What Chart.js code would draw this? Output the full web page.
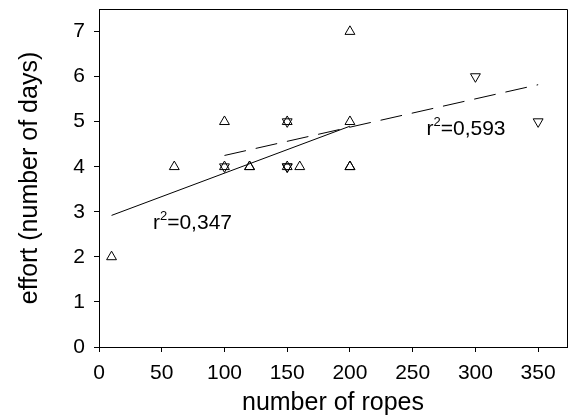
<!DOCTYPE html>
<html>
<head>
<meta charset="utf-8">
<script src="https://cdn.jsdelivr.net/npm/chart.js@4/dist/chart.umd.min.js"></script>
<style>
  html, body { margin: 0; padding: 0; background: #fff; }
  #wrap { width: 577px; height: 418px; }
</style>
</head>
<body>
<div id="wrap"><canvas id="ropesChart"></canvas></div>
<script>
// points of the first group (up triangles), duplicates drawn twice
const upX = [10, 60, 100, 100, 120, 120, 150, 150, 160, 200, 200, 200, 200];
const upY = [2, 4, 5, 4, 4, 4, 5, 4, 4, 7, 5, 4, 4];

// points of the second group (down triangles)
const downX = [100, 150, 150, 150, 300, 350];
const downY = [4, 5, 4, 4, 6, 5];

// fitted lines, end points
const solidFitX = [10, 200];
const solidFitY = [2.92, 4.9];
const dashFitX = [100, 350];
const dashFitY = [4.25, 5.82];

// r² labels and where they sit (data units)
const fitLabels = ['0,347', '0,593'];
const fitLabelX = [43, 261];
const fitLabelY = [2.62, 4.71];

const xTicks = [0, 50, 100, 150, 200, 250, 300, 350];
const yTicks = [0, 1, 2, 3, 4, 5, 6, 7];

const toPoints = (xs, ys) => xs.map((x, i) => ({ x: x, y: ys[i] }));

const FONT = "'Liberation Sans', Arial, sans-serif";

const boxPlugin = {
    id: 'box',
    afterDraw(chart) {
        const { ctx, chartArea } = chart;
        ctx.save();
        ctx.strokeStyle = '#000';
        ctx.lineWidth = 1;
        ctx.beginPath();
        ctx.moveTo(Math.round(chartArea.left) + 0.5, Math.round(chartArea.top) + 0.5);
        ctx.lineTo(Math.round(chartArea.right) + 0.5, Math.round(chartArea.top) + 0.5);
        ctx.lineTo(Math.round(chartArea.right) + 0.5, Math.round(chartArea.bottom) + 0.5);
        ctx.stroke();
        ctx.restore();
    }
};

const labelPlugin = {
    id: 'fitLabels',
    afterDatasetsDraw(chart) {
        const { ctx, scales } = chart;
        ctx.save();
        ctx.fillStyle = '#000';
        ctx.textBaseline = 'alphabetic';
        ctx.textAlign = 'left';
        fitLabels.forEach((txt, i) => {
            let px = scales.x.getPixelForValue(fitLabelX[i]);
            const py = scales.y.getPixelForValue(fitLabelY[i]);
            ctx.font = '21px ' + FONT;
            ctx.fillText('r', px, py);
            px += ctx.measureText('r').width;
            ctx.font = '13px ' + FONT;
            ctx.fillText('2', px, py - 9);
            px += ctx.measureText('2').width;
            ctx.font = '21px ' + FONT;
            ctx.fillText('=' + txt, px, py);
        });
        ctx.restore();
    }
};

const ctx = document.getElementById('ropesChart').getContext('2d');
new Chart(ctx, {
    type: 'scatter',
    data: {
        datasets: [
            {
                data: toPoints(solidFitX, solidFitY),
                showLine: true,
                borderColor: '#000',
                borderWidth: 1,
                pointRadius: 0
            },
            {
                data: toPoints(dashFitX, dashFitY),
                showLine: true,
                borderColor: '#000',
                borderWidth: 1,
                borderDash: [22, 10],
                pointRadius: 0
            },
            {
                data: toPoints(upX, upY),
                pointStyle: 'triangle',
                pointRadius: 5.7,
                borderColor: '#000',
                borderWidth: 1,
                backgroundColor: 'rgba(0,0,0,0)'
            },
            {
                data: toPoints(downX, downY),
                pointStyle: 'triangle',
                rotation: 180,
                pointRadius: 5.7,
                borderColor: '#000',
                borderWidth: 1,
                backgroundColor: 'rgba(0,0,0,0)'
            }
        ]
    },
    options: {
        responsive: true,
        maintainAspectRatio: false,
        animation: false,
        layout: { padding: { top: 9, right: 10, left: 0, bottom: 0 } },
        plugins: {
            legend: { display: false },
            tooltip: { enabled: false }
        },
        scales: {
            x: {
                type: 'linear',
                min: 0,
                max: 373,
                afterFit(scale) {
                    scale.height = 71;
                    scale.paddingLeft = 0;
                    scale.paddingRight = 0;
                },
                afterBuildTicks(scale) { scale.ticks = xTicks.map(v => ({ value: v })); },
                ticks: {
                    color: '#000',
                    padding: 9,
                    font: { family: FONT, size: 21 }
                },
                grid: {
                    drawOnChartArea: false,
                    drawTicks: true,
                    tickLength: 5,
                    color: '#000'
                },
                border: { display: true, color: '#000', width: 1 },
                title: {
                    display: true,
                    text: 'number of ropes',
                    color: '#000',
                    padding: { top: 0, bottom: 0 },
                    font: { family: FONT, size: 25 }
                }
            },
            y: {
                type: 'linear',
                min: 0,
                max: 7.5,
                afterFit(scale) {
                    scale.width = 99;
                    scale.paddingTop = 0;
                    scale.paddingBottom = 0;
                },
                afterBuildTicks(scale) { scale.ticks = yTicks.map(v => ({ value: v })); },
                ticks: {
                    color: '#000',
                    padding: 9,
                    font: { family: FONT, size: 21 }
                },
                grid: {
                    drawOnChartArea: false,
                    drawTicks: true,
                    tickLength: 5,
                    color: '#000'
                },
                border: { display: true, color: '#000', width: 1 },
                title: {
                    display: true,
                    text: 'effort (number of days)',
                    color: '#000',
                    padding: { top: 15, bottom: 0 },
                    font: { family: FONT, size: 25 }
                }
            }
        }
    },
    plugins: [boxPlugin, labelPlugin]
});
</script>
</body>
</html>
